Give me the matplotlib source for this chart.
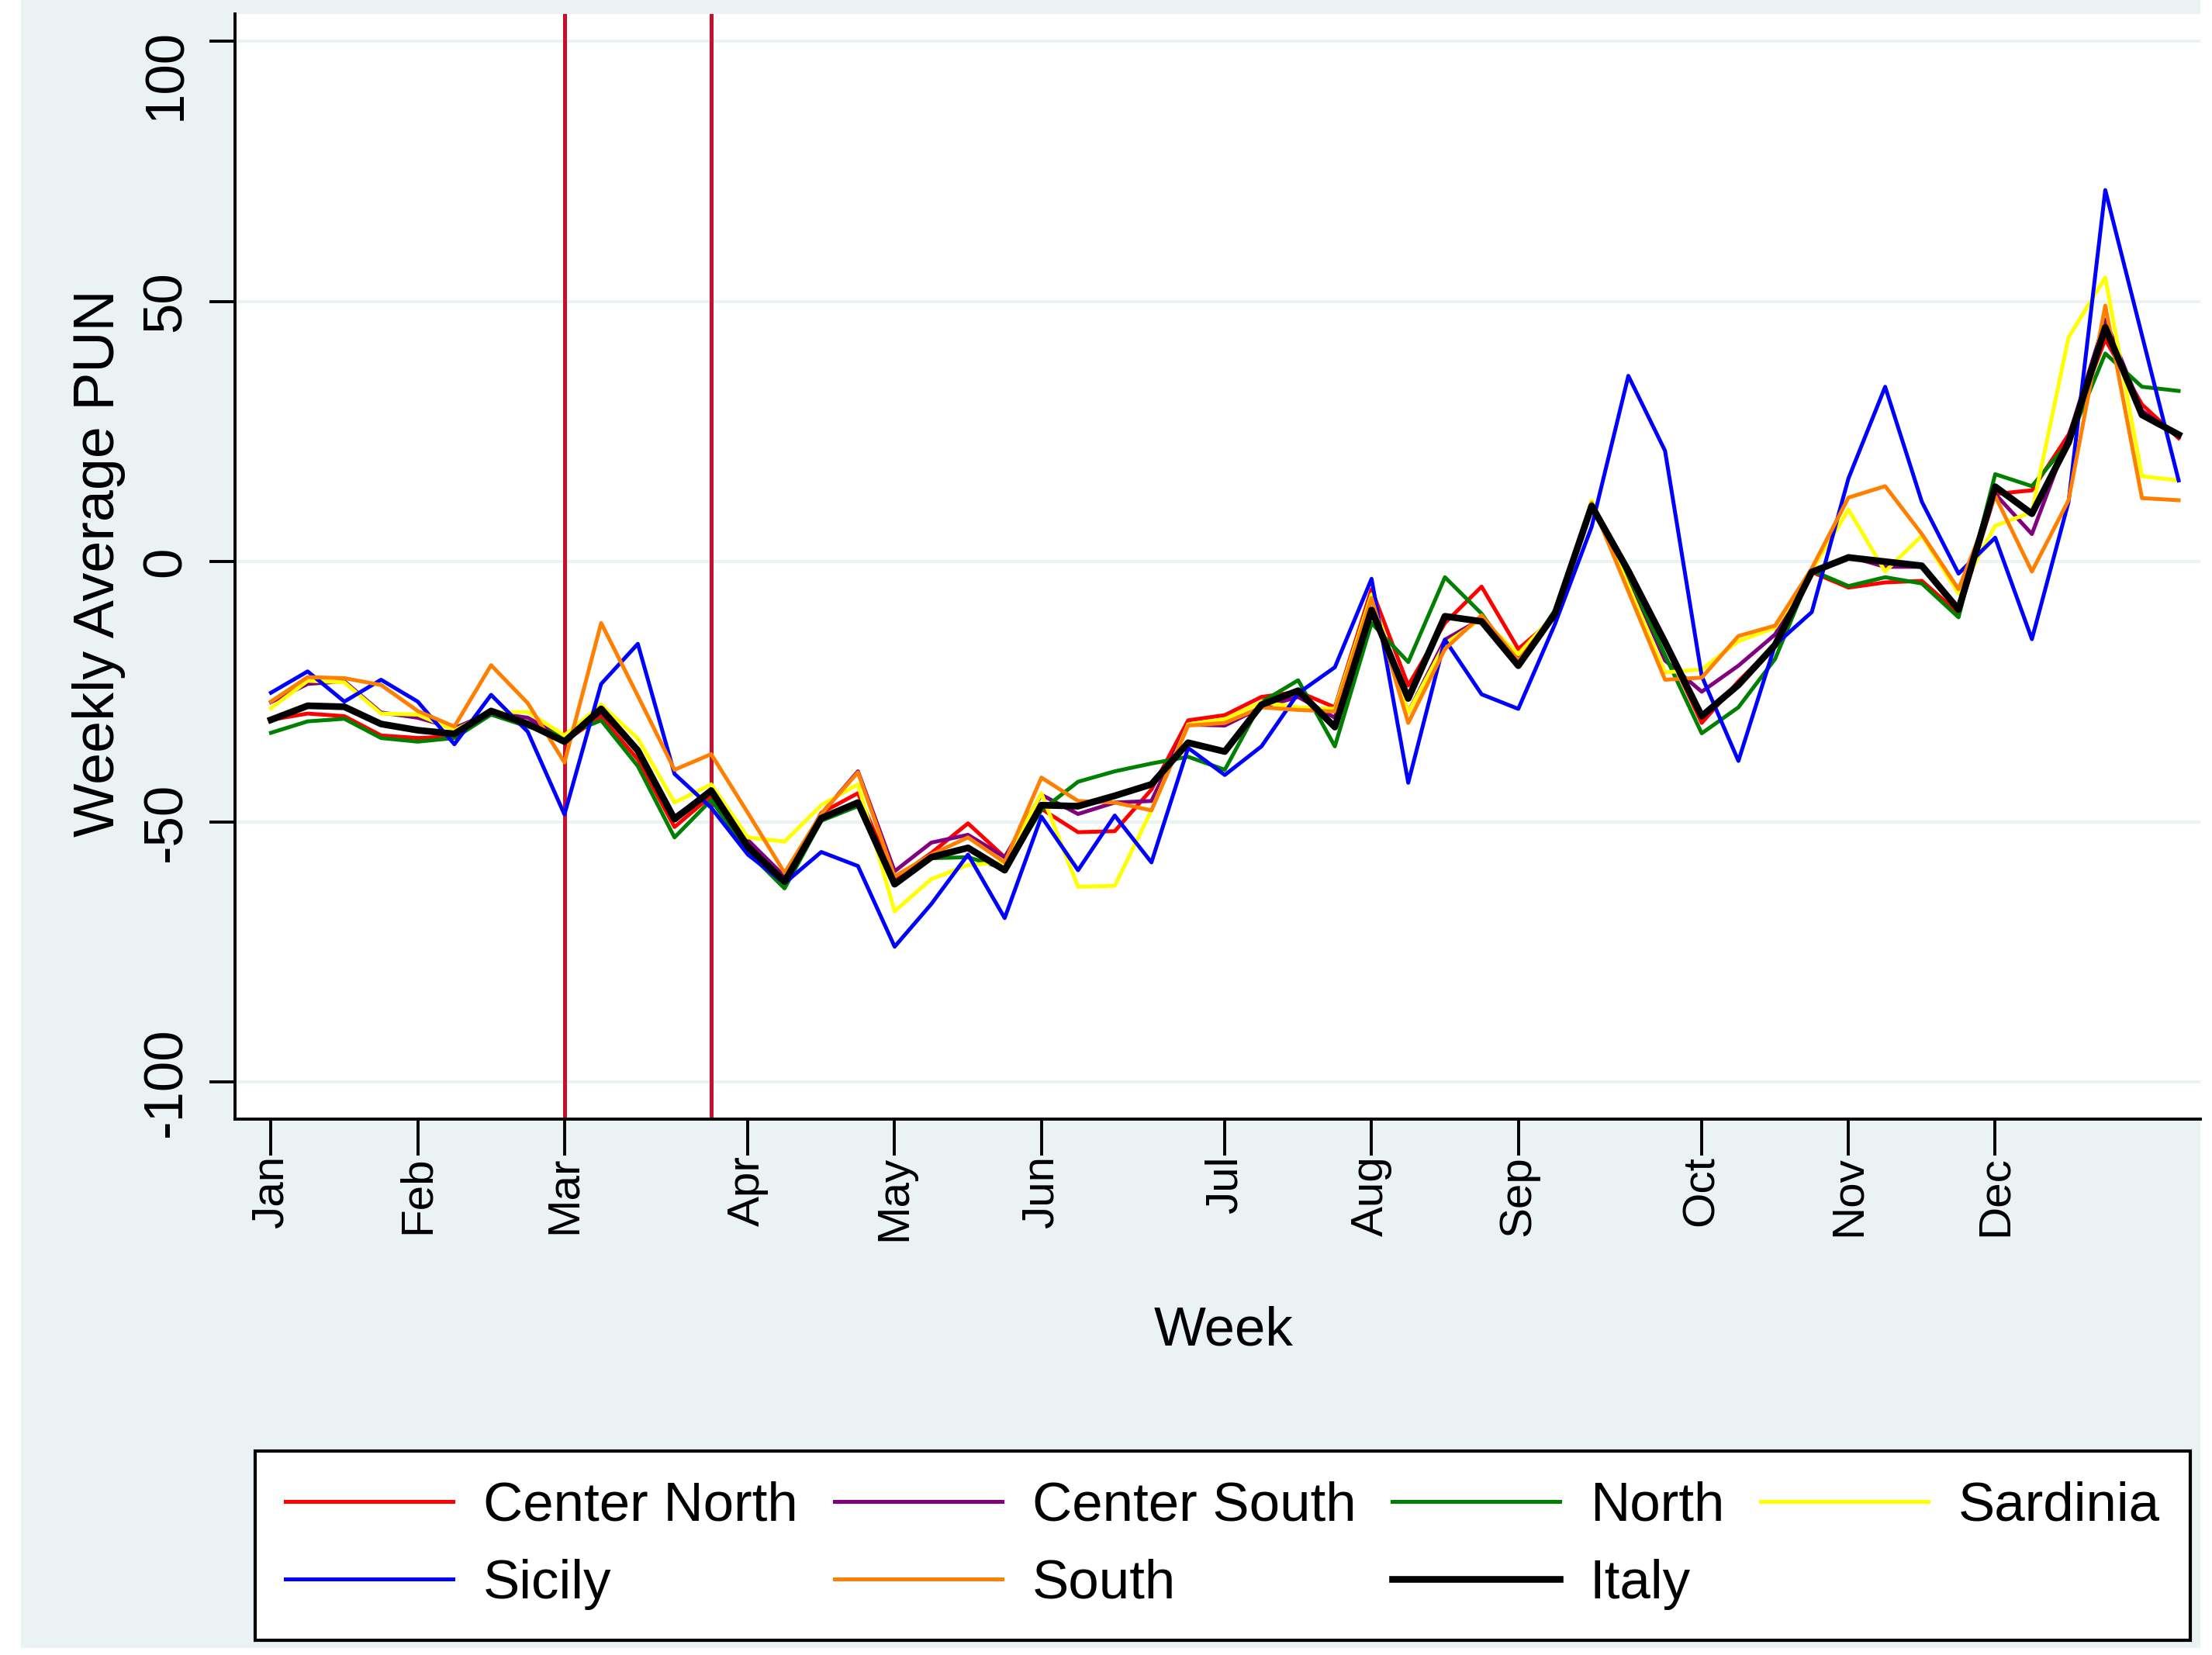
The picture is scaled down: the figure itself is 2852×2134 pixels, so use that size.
import numpy as np
import matplotlib.pyplot as plt
from matplotlib.patches import Rectangle
from matplotlib.transforms import ScaledTranslation

plt.rcParams['font.family'] = ['Liberation Sans', 'DejaVu Sans']

weeks = np.arange(1, 54)
month_weeks = [1, 5, 9, 14, 18, 22, 27, 31, 35, 40, 44, 48]
month_labels = ['Jan', 'Feb', 'Mar', 'Apr', 'May', 'Jun',
                'Jul', 'Aug', 'Sep', 'Oct', 'Nov', 'Dec']
event_weeks = [9, 13]

center_north = [-30.4, -29.2, -29.7, -33.4, -33.9, -33.6, -29, -31.5, -34.5, -29.8,
                -38, -51, -45, -55.5, -61.5, -48.3, -44.5, -61, -56, -50.3,
                -56.8, -47.5, -52, -51.8, -43.8, -30.5, -29.5, -26, -25, -28,
                -5.3, -23.8, -11.8, -4.8, -16.8, -10.8, 10.5, -2, -16, -31,
                -23, -16, -2, -5, -4, -3.7, -9.9, 13, 13.7, 24.4,
                42.7, 30.2, 23.7]
center_south = [-27, -23.5, -23, -29, -30, -32, -29, -30, -34, -29,
                -36, -49, -44, -53.5, -60.5, -48.5, -40.3, -59.5, -54, -52.5,
                -56.8, -44.8, -48.5, -46.3, -46, -31.3, -31.5, -28, -26, -30,
                -7, -29, -15, -11, -18, -10, 11, -3, -19, -25,
                -20, -14, -2, 1, -1, -1, -9, 13, 5.3, 24,
                46.5, 29, 24]
north = [-32.9, -30.7, -30.2, -33.9, -34.6, -33.9, -29.4, -31.7, -33.4, -30.5,
         -39.3, -53, -45.8, -55.8, -62.8, -49.8, -47, -62, -57, -56.8,
         -59, -47.8, -42.3, -40.3, -38.8, -37.5, -40, -27, -22.8, -35.5,
         -11.8, -19.3, -3, -10, -20, -9.3, 10.7, -2.7, -18, -33,
         -28, -18.7, -1.7, -4.7, -3, -4.2, -10.7, 16.8, 14.5, 22.9,
         40, 33.6, 32.8]
sardinia = [-28.2, -22.9, -23.2, -29.2, -29.4, -32.4, -28.9, -28.9, -33.4, -27.5,
            -34, -46.3, -42.8, -53, -53.8, -46.8, -42.8, -67.2, -61, -58.3,
            -57.8, -44.5, -62.5, -62.3, -47.8, -31.3, -30.3, -27, -28, -28.3,
            -6.3, -29, -15.8, -11, -17.8, -10, 11.7, -4.7, -21.3, -20.7,
            -15.3, -12.7, -1.7, 10, -1.9, 5, -6.1, 6.9, 9.5, 43.1,
            54.6, 16.4, 15.6]
sicily = [-25.2, -21.1, -26.9, -22.7, -26.9, -35.1, -25.6, -32.7, -48.6, -23.5,
          -15.8, -40.8, -47.3, -56.3, -61.8, -55.8, -58.5, -74, -65.8, -56.3,
          -68.5, -49, -59.3, -48.8, -57.8, -35.8, -41, -35.5, -25.3, -20.3,
          -3.3, -42.5, -15, -25.5, -28.3, -12, 6.7, 35.7, 21.3, -22,
          -38.3, -16, -9.7, 16, 33.6, 11.5, -2.3, 4.6, -14.9, 11.5,
          71.4, 43.5, 15.6]
south = [-26.9, -22.2, -22.4, -23.7, -28.7, -31.7, -19.9, -27.2, -38.6, -11.8,
         -25.8, -40, -37, -48.3, -59.8, -48.5, -40.5, -60.5, -56.3, -53,
         -57.8, -41.5, -46, -46.3, -47.8, -31.5, -31, -28, -28.5, -28.8,
         -7, -31, -16.8, -10.3, -19, -10, 11.3, -5.7, -22.7, -22.3,
         -14.3, -12.3, -1.3, 12.3, 14.5, 5.3, -5.3, 12.6, -1.9, 11.8,
         49.2, 12.2, 11.8]
italy = [-30.4, -27.7, -27.9, -31.2, -32.4, -33.1, -28.7, -31.2, -34.6, -28.3,
         -36.3, -49.5, -44, -54.8, -61.5, -49.3, -46.3, -62, -56.8, -55,
         -59.3, -46.8, -47, -45, -42.8, -34.8, -36.5, -27.5, -24.8, -31.8,
         -9.3, -26.3, -10.5, -11.5, -20, -10, 10.7, -1.8, -15.5, -29.7,
         -23.7, -16, -2, 0.8, 0, -0.8, -9.2, 14.4, 9.2, 22.9,
         45, 28.2, 24.4]

series = [
    ('Center North', center_north, '#FF0000', 1.8),
    ('Center South', center_south, '#800080', 1.8),
    ('North', north, '#008000', 1.8),
    ('Sardinia', sardinia, '#FFFF00', 1.8),
    ('Sicily', sicily, '#0000FF', 1.8),
    ('South', south, '#FF7F00', 1.8),
    ('Italy', italy, '#000000', 3.1),
]

W, H = 1560.0, 1167.0
fig = plt.figure(figsize=(14.26, 10.67), dpi=200)
fig.add_artist(Rectangle((15 / W, 1 - 1162 / H), (1552 - 15) / W, 1162 / H,
                         transform=fig.transFigure, facecolor='#EAF2F3',
                         edgecolor='none', zorder=-5))

ax = fig.add_axes([166 / W, 1 - 789 / H, (1552 - 166) / W, (789 - 10) / H])
ax.set_facecolor('white')

for y in [-100, -50, 0, 50, 100]:
    ax.axhline(y, color='#EAF2F3', lw=1.4, zorder=1)
for w in event_weeks:
    ax.axvline(w, color='#C8102E', lw=1.8, zorder=1.5)

lines = {}
for name, vals, col, lw in series:
    lines[name], = ax.plot(weeks, vals, color=col, lw=lw, label=name, zorder=2)

ax.set_xlim(0.03, 53.6)
ax.set_ylim(-107.1, 105.2)

ax.spines['top'].set_visible(False)
ax.spines['right'].set_visible(False)
ax.spines['left'].set_linewidth(1.4)
ax.spines['bottom'].set_linewidth(1.4)

ax.tick_params(axis='x', length=17, width=1.4, pad=0)
ax.tick_params(axis='y', length=12, width=1.4, pad=8)
ax.set_xticks(month_weeks)
ax.set_xticklabels(month_labels, rotation=90, fontsize=21)
ax.set_yticks([-100, -50, 0, 50, 100])
ax.set_yticklabels(['-100', '-50', '0', '50', '100'], rotation=90, fontsize=25.5, va='center')
top_lab = ax.get_yticklabels()[-1]
top_lab.set_va('top')
top_lab.set_transform(top_lab.get_transform() + ScaledTranslation(0, 6 / 72, fig.dpi_scale_trans))

ax.text(-0.0693, 0.503, 'Weekly Average PUN', rotation=90, ha='center', va='center',
        fontsize=26.5, transform=ax.transAxes)
ax.text(0.503, -0.192, 'Week', ha='center', va='center', fontsize=25.5,
        transform=ax.transAxes)

order = ['Center North', 'Sicily', 'Center South', 'South', 'North', 'Italy', 'Sardinia']
leg = fig.legend([lines[n] for n in order], order, loc='upper left',
                 bbox_to_anchor=(180 / W, 1 - 1023 / H), borderaxespad=0,
                 ncol=4, fontsize=25.5, handlelength=3.05, handletextpad=0.55,
                 columnspacing=0.66, borderpad=0.55, labelspacing=0.48,
                 fancybox=False, edgecolor='black', framealpha=1)
leg.get_frame().set_linewidth(1.5)

fig.savefig('out.png', dpi=200)
